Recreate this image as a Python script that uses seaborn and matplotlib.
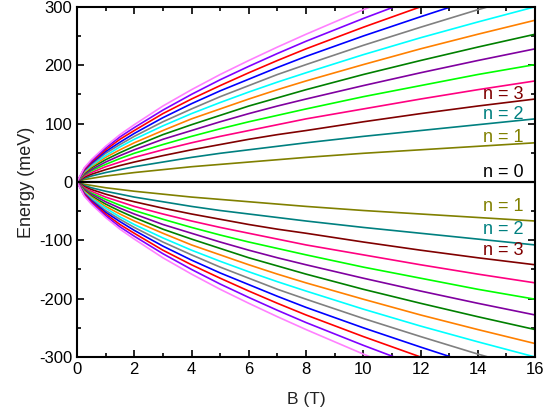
import pandas as pd
import seaborn as sns
import matplotlib.pyplot as plt
from matplotlib.ticker import MultipleLocator

# magnetic field samples (T)
field = [0, 0.25, 0.5, 1, 1.5, 2, 3, 4, 5, 6, 7, 8, 10, 12, 14, 16]

# positive branch of each Landau level (meV)
n1 = [0, 4, 6, 10, 13, 16, 21, 26, 30, 34, 38, 42, 49, 55, 61, 67]
n2 = [0, 6, 10, 16, 21, 26, 34, 42, 49, 55, 61, 67, 78, 88, 98, 108]
n3 = [0, 8, 13, 21, 28, 34, 45, 55, 64, 73, 81, 88, 103, 117, 130, 142]
n4 = [0, 10, 16, 26, 34, 42, 55, 67, 78, 88, 98, 108, 125, 142, 158, 173]
n5 = [0, 12, 19, 30, 40, 49, 64, 78, 91, 103, 114, 125, 146, 165, 184, 201]
n6 = [0, 13, 21, 34, 45, 55, 73, 88, 103, 117, 130, 142, 165, 187, 208, 228]
n7 = [0, 15, 24, 38, 50, 61, 81, 98, 114, 130, 144, 158, 184, 208, 231, 253]
n8 = [0, 16, 26, 42, 55, 67, 88, 108, 125, 142, 158, 173, 201, 228, 253, 277]
n9 = [0, 18, 28, 45, 60, 73, 96, 117, 136, 154, 171, 187, 218, 247, 274, 300]
n10 = [0, 19, 30, 49, 64, 78, 103, 125, 146, 165, 184, 201, 234, 265, 295, 323]
n11 = [0, 20, 32, 52, 68, 83, 110, 134, 156, 176, 196, 215, 250, 283, 315, 345]
n12 = [0, 21, 34, 55, 73, 88, 117, 142, 165, 187, 208, 228, 265, 300, 334, 366]
n13 = [0, 23, 36, 58, 77, 93, 123, 150, 175, 198, 220, 241, 280, 317, 353, 386]
n14 = [0, 24, 38, 61, 81, 98, 130, 158, 184, 208, 231, 253, 295, 334, 371, 406]
levels = [n1, n2, n3, n4, n5, n6, n7, n8, n9, n10, n11, n12, n13, n14]

colors = ['#808000', '#008080', '#800000', '#FF0080', '#00FF00', '#8000A0', '#008000',
          '#FF8000', '#00FFFF', '#808080', '#0000FF', '#FF0000', '#8000FF', '#FF80FF']

# labels for the lowest levels
label_names = ['n = 0', 'n = 1', 'n = 2', 'n = 3', 'n = 1', 'n = 2', 'n = 3']
label_y = [16, 76, 116, 149, -43, -82, -118]
label_colors = ['black', '#808000', '#008080', '#800000', '#808000', '#008080', '#800000']

# long-form table, one curve per sign and level
rows = []
for i, vals in enumerate(levels):
    for sign in (1, -1):
        for b, e in zip(field, vals):
            rows.append({'B': b, 'E': sign * e, 'curve': f'{sign * (i + 1)}'})
df = pd.DataFrame(rows)
palette = {}
for i, c in enumerate(colors):
    palette[str(i + 1)] = c
    palette[str(-(i + 1))] = c

sns.set_style('ticks')
plt.rcParams['font.family'] = ['Liberation Sans', 'DejaVu Sans']
plt.rcParams['axes.unicode_minus'] = False

fig = plt.figure(figsize=(5.48, 4.12), dpi=100)
ax = fig.add_axes([0.1405, 0.1335, 0.836, 0.85])

sns.lineplot(data=df, x='B', y='E', hue='curve', palette=palette, legend=False,
             linewidth=1.2, ax=ax, estimator=None, sort=False)
ax.axhline(0, color='black', lw=1.6, zorder=5)

for name, y, c in zip(label_names, label_y, label_colors):
    ax.text(15.6, y, name, color=c, fontsize=13, ha='right', va='center')

ax.set_xlim(0, 16)
ax.set_ylim(-300, 300)
ax.xaxis.set_major_locator(MultipleLocator(2))
ax.xaxis.set_minor_locator(MultipleLocator(1))
ax.yaxis.set_major_locator(MultipleLocator(100))
ax.yaxis.set_minor_locator(MultipleLocator(50))
ax.tick_params(which='both', direction='in', top=True, right=True, width=1.2,
               colors='black', labelsize=12)
ax.tick_params(which='major', length=5)
ax.tick_params(which='minor', length=3)
for s in ax.spines.values():
    s.set_linewidth(1.5)
    s.set_color('black')

ax.set_xlabel('B (T)', fontsize=12.5, color='#222222', labelpad=11)
ax.set_ylabel('Energy (meV)', fontsize=13, color='#222222', labelpad=3)

fig.savefig('out.png', dpi=100)
